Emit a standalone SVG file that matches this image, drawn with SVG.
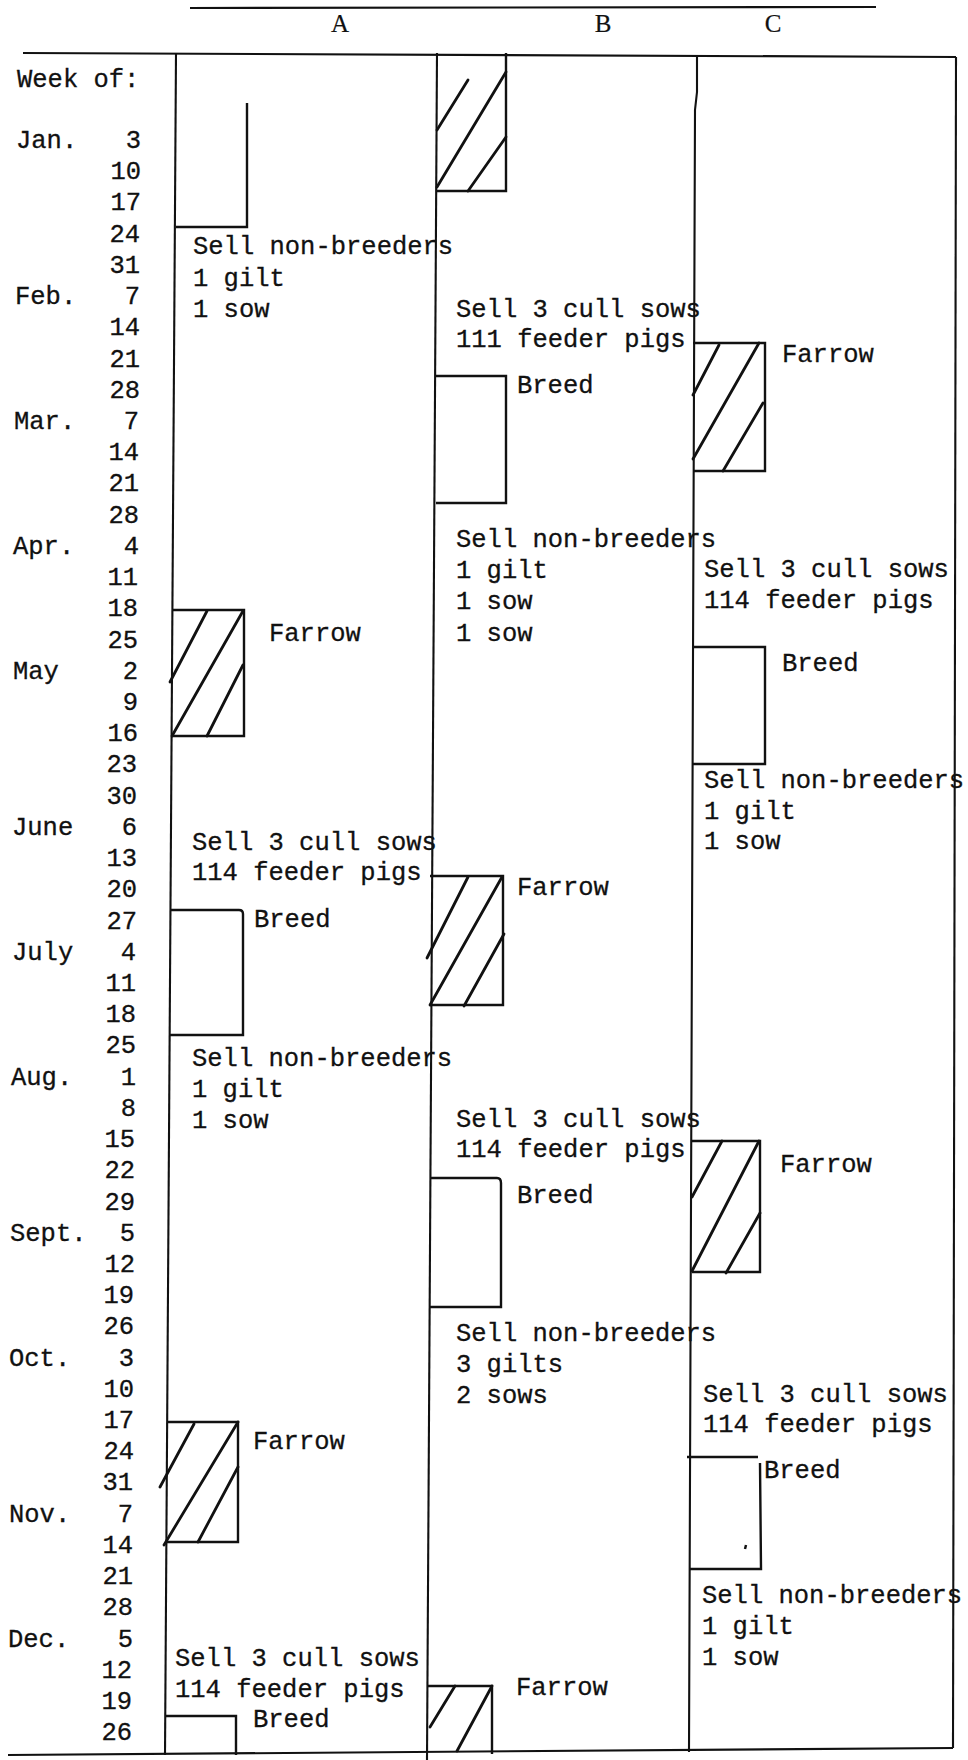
<svg xmlns="http://www.w3.org/2000/svg" width="968" height="1760" viewBox="0 0 968 1760">
<style>
text{font-family:"Liberation Mono","Courier New",monospace;font-size:25.5px;fill:#111;stroke:#111;stroke-width:0.3}
.hd{font-family:"Liberation Serif","Times New Roman",serif;font-size:25px;text-anchor:middle;stroke-width:0.2}
.n{text-anchor:end}
.ln{fill:none;stroke:#111;stroke-width:2.1;stroke-linejoin:miter}
.bx{fill:none;stroke:#111;stroke-width:2.4}
.ht{fill:none;stroke:#111;stroke-width:2.8;stroke-linecap:round}
</style>
<rect width="968" height="1760" fill="#fff"/>
<g id="grid">
<path class="ln" d="M190,8 L876,7"/>
<path class="ln" d="M23,53 L956,57"/>
<path class="ln" d="M8,1755 L953,1748"/>
<path class="ln" d="M176,53 L165,1755"/>
<path class="ln" d="M437,53 L427,1760"/>
<path class="ln" d="M697,57 L697,92 L695,110 L689,1752"/>
<path class="ln" d="M956,57 L953,1748"/>
<text class="hd" x="340" y="32">A</text>
<text class="hd" x="603" y="32">B</text>
<text class="hd" x="773" y="32">C</text>
</g>
<g id="weeks">
<text x="17" y="87">Week of:</text>
<text x="16" y="148">Jan.</text><text class="n" x="141" y="148">3</text>
<text class="n" x="141" y="179">10</text>
<text class="n" x="141" y="210">17</text>
<text class="n" x="140" y="242">24</text>
<text class="n" x="140" y="273">31</text>
<text x="15" y="304">Feb.</text><text class="n" x="140" y="304">7</text>
<text class="n" x="140" y="335">14</text>
<text class="n" x="140" y="367">21</text>
<text class="n" x="140" y="398">28</text>
<text x="14" y="429">Mar.</text><text class="n" x="139" y="429">7</text>
<text class="n" x="139" y="460">14</text>
<text class="n" x="139" y="491">21</text>
<text class="n" x="139" y="523">28</text>
<text x="13" y="554">Apr.</text><text class="n" x="139" y="554">4</text>
<text class="n" x="138" y="585">11</text>
<text class="n" x="138" y="616">18</text>
<text class="n" x="138" y="648">25</text>
<text x="13" y="679">May</text><text class="n" x="138" y="679">2</text>
<text class="n" x="138" y="710">9</text>
<text class="n" x="138" y="741">16</text>
<text class="n" x="137" y="772">23</text>
<text class="n" x="137" y="804">30</text>
<text x="12" y="835">June</text><text class="n" x="137" y="835">6</text>
<text class="n" x="137" y="866">13</text>
<text class="n" x="137" y="897">20</text>
<text class="n" x="137" y="929">27</text>
<text x="12" y="960">July</text><text class="n" x="136" y="960">4</text>
<text class="n" x="136" y="991">11</text>
<text class="n" x="136" y="1022">18</text>
<text class="n" x="136" y="1053">25</text>
<text x="11" y="1085">Aug.</text><text class="n" x="136" y="1085">1</text>
<text class="n" x="136" y="1116">8</text>
<text class="n" x="135" y="1147">15</text>
<text class="n" x="135" y="1178">22</text>
<text class="n" x="135" y="1210">29</text>
<text x="10" y="1241">Sept.</text><text class="n" x="135" y="1241">5</text>
<text class="n" x="135" y="1272">12</text>
<text class="n" x="134" y="1303">19</text>
<text class="n" x="134" y="1334">26</text>
<text x="9" y="1366">Oct.</text><text class="n" x="134" y="1366">3</text>
<text class="n" x="134" y="1397">10</text>
<text class="n" x="134" y="1428">17</text>
<text class="n" x="134" y="1459">24</text>
<text class="n" x="133" y="1490">31</text>
<text x="9" y="1522">Nov.</text><text class="n" x="133" y="1522">7</text>
<text class="n" x="133" y="1553">14</text>
<text class="n" x="133" y="1584">21</text>
<text class="n" x="133" y="1615">28</text>
<text x="8" y="1647">Dec.</text><text class="n" x="133" y="1647">5</text>
<text class="n" x="132" y="1678">12</text>
<text class="n" x="132" y="1709">19</text>
<text class="n" x="132" y="1740">26</text>
</g>
<g id="A-breed0"><path class="bx" d="M247,103 V227 H176"/></g>
<g id="A-sell1">
<text x="193" y="254">Sell non-breeders</text>
<text x="193" y="286">1 gilt</text>
<text x="193" y="317">1 sow</text>
</g>
<g id="A-farrow1">
<path class="bx" d="M172,610 H244 V736 H172"/>
<path class="ht" d="M170,682 L207,611 M172,736 L243,611 M207,736 L243,665"/>
<text x="269" y="641">Farrow</text>
</g>
<g id="A-cull1">
<text x="192" y="850">Sell 3 cull sows</text>
<text x="192" y="880">114 feeder pigs</text>
</g>
<g id="A-breed1">
<path class="bx" d="M170,910 H239 Q243,910 243,914 V1035 H169"/>
<text x="254" y="927">Breed</text>
</g>
<g id="A-sell2">
<text x="192" y="1066">Sell non-breeders</text>
<text x="192" y="1097">1 gilt</text>
<text x="192" y="1128">1 sow</text>
</g>
<g id="A-farrow2">
<path class="bx" d="M167,1422 H238 V1542 H166"/>
<path class="ht" d="M160,1487 L194,1424 M164,1545 L238,1422 M198,1542 L238,1467"/>
<text x="253" y="1449">Farrow</text>
</g>
<g id="A-cull2">
<text x="175" y="1666">Sell 3 cull sows</text>
<text x="175" y="1697">114 feeder pigs</text>
</g>
<g id="A-breed2">
<path class="bx" d="M166,1716 H236 V1755"/>
<text x="253" y="1727">Breed</text>
</g>
<g id="B-farrow0">
<path class="bx" d="M506,53 V191 H437"/>
<path class="ht" d="M437,130 L468,80 M437,187 L506,72 M468,191 L506,137"/>
</g>
<g id="B-cull1">
<text x="456" y="317">Sell 3 cull sows</text>
<text x="456" y="347">111 feeder pigs</text>
</g>
<g id="B-breed1">
<path class="bx" d="M436,376 H506 V503 H436"/>
<text x="517" y="393">Breed</text>
</g>
<g id="B-sell1">
<text x="456" y="547">Sell non-breeders</text>
<text x="456" y="578">1 gilt</text>
<text x="456" y="609">1 sow</text>
<text x="456" y="641">1 sow</text>
</g>
<g id="B-farrow1">
<path class="bx" d="M430,876 H503 V1005 H430"/>
<path class="ht" d="M427,958 L468,877 M430,1005 L502,877 M464,1006 L504,934"/>
<text x="517" y="895">Farrow</text>
</g>
<g id="B-cull2">
<text x="456" y="1127">Sell 3 cull sows</text>
<text x="456" y="1157">114 feeder pigs</text>
</g>
<g id="B-breed2">
<path class="bx" d="M430,1178 H497 Q501,1178 501,1183 V1307 H429"/>
<text x="517" y="1203">Breed</text>
</g>
<g id="B-sell2">
<text x="456" y="1341">Sell non-breeders</text>
<text x="456" y="1372">3 gilts</text>
<text x="456" y="1403">2 sows</text>
</g>
<g id="B-farrow2">
<path class="bx" d="M428,1686 H492 V1754"/>
<path class="ht" d="M430,1727 L455,1686 M457,1751 L492,1686"/>
<text x="516" y="1695">Farrow</text>
</g>
<g id="C-farrow1">
<path class="bx" d="M693,343 H765 V471 H693"/>
<path class="ht" d="M693,395 L719,345 M693,459 L759,343 M723,471 L763,403"/>
<text x="782" y="362">Farrow</text>
</g>
<g id="C-cull1">
<text x="704" y="577">Sell 3 cull sows</text>
<text x="704" y="608">114 feeder pigs</text>
</g>
<g id="C-breed1">
<path class="bx" d="M693,647 H765 V764 H693"/>
<text x="782" y="671">Breed</text>
</g>
<g id="C-sell1">
<text x="704" y="788">Sell non-breeders</text>
<text x="704" y="819">1 gilt</text>
<text x="704" y="849">1 sow</text>
</g>
<g id="C-farrow2">
<path class="bx" d="M692,1141 H760 V1272 H692"/>
<path class="ht" d="M692,1197 L722,1141 M692,1271 L759,1141 M726,1273 L760,1213"/>
<text x="780" y="1172">Farrow</text>
</g>
<g id="C-cull2">
<text x="703" y="1402">Sell 3 cull sows</text>
<text x="703" y="1432">114 feeder pigs</text>
</g>
<g id="C-breed2">
<path class="bx" d="M687,1457 H758 M760,1463 L761,1569 H689"/>
<path class="bx" d="M746,1545 L745,1549" stroke-width="1.5"/>
<text x="764" y="1478">Breed</text>
</g>
<g id="C-sell2">
<text x="702" y="1603">Sell non-breeders</text>
<text x="702" y="1634">1 gilt</text>
<text x="702" y="1665">1 sow</text>
</g>
</svg>
